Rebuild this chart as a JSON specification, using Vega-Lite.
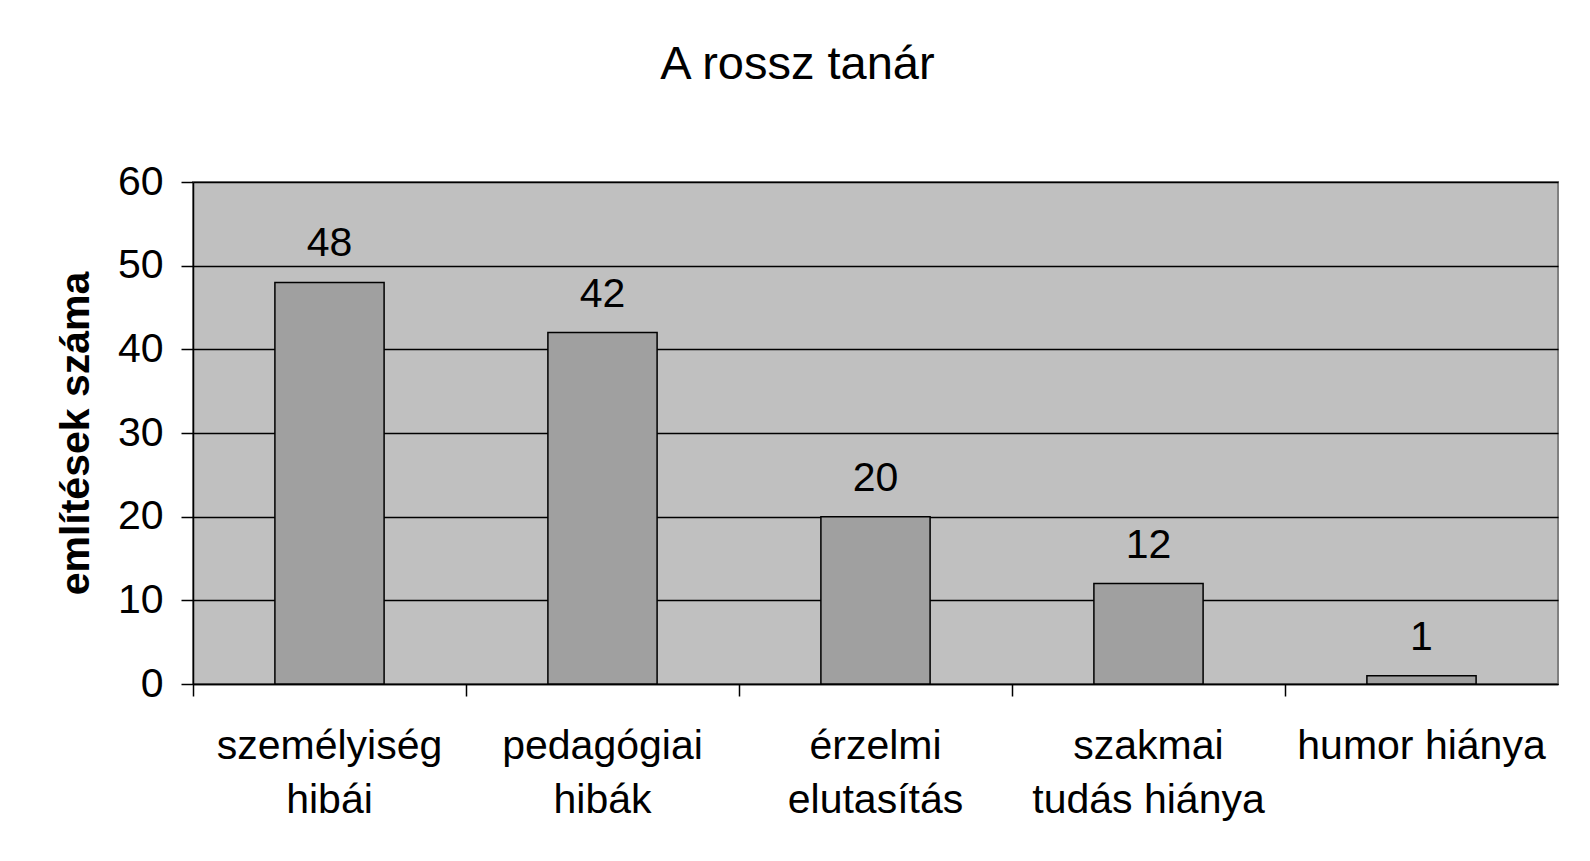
{
  "$schema": "https://vega.github.io/schema/vega-lite/v6.json",
  "autosize": {"type": "none"},
  "width": 1365,
  "height": 502,
  "padding": {"left": 193, "top": 182, "right": 32, "bottom": 177},
  "background": "white",
  "title": {
    "text": "A rossz tanár",
    "font": "Liberation Sans",
    "fontSize": 47,
    "fontWeight": "normal",
    "color": "black",
    "anchor": "middle",
    "frame": "group",
    "dx": -78,
    "offset": 72
  },
  "data": {
    "values": [
      {"kategoria": "személyiség hibái", "ertek": 48},
      {"kategoria": "pedagógiai hibák", "ertek": 42},
      {"kategoria": "érzelmi elutasítás", "ertek": 20},
      {"kategoria": "szakmai tudás hiánya", "ertek": 12},
      {"kategoria": "humor hiánya", "ertek": 1}
    ]
  },
  "config": {
    "view": {"fill": "#C0C0C0", "stroke": "#808080", "strokeWidth": 2},
    "axis": {
      "labelFont": "Liberation Sans",
      "labelFontSize": 41,
      "labelColor": "black",
      "labelLimit": 0,
      "domainColor": "black",
      "domainWidth": 1.5,
      "tickColor": "black",
      "tickWidth": 1.5,
      "tickSize": 12
    }
  },
  "layer": [
    {
      "mark": {"type": "bar", "width": {"band": 0.4}, "fill": "#A0A0A0", "stroke": "black", "strokeWidth": 1.5},
      "encoding": {
        "x": {
          "field": "kategoria",
          "type": "nominal",
          "sort": null,
          "scale": {"paddingInner": 0, "paddingOuter": 0},
          "axis": {
            "title": null,
            "labelAngle": 0,
            "bandPosition": 0,
            "labelPadding": 30,
            "labelLineHeight": 54,
            "labelBaseline": "top",
            "labelExpr": "datum.value == 'humor hiánya' ? datum.value : [substring(datum.value, 0, indexof(datum.value, ' ')), substring(datum.value, indexof(datum.value, ' ') + 1)]"
          }
        },
        "y": {
          "field": "ertek",
          "type": "quantitative",
          "scale": {"domain": [0, 60], "nice": false},
          "axis": {
            "title": "említések száma",
            "titleFont": "Liberation Sans",
            "titleFontSize": 41,
            "titleFontWeight": "bold",
            "titleColor": "black",
            "titlePadding": 20,
            "values": [0, 10, 20, 30, 40, 50, 60],
            "labelPadding": 18,
            "grid": true,
            "gridColor": "black",
            "gridWidth": 1.3,
            "gridOpacity": 1
          }
        }
      }
    },
    {
      "mark": {
        "type": "text",
        "font": "Liberation Sans",
        "fontSize": 41,
        "fill": "black",
        "baseline": "alphabetic",
        "dy": -26
      },
      "encoding": {
        "x": {"field": "kategoria", "type": "nominal", "sort": null},
        "y": {"field": "ertek", "type": "quantitative"},
        "text": {"field": "ertek", "type": "quantitative"}
      }
    }
  ]
}
